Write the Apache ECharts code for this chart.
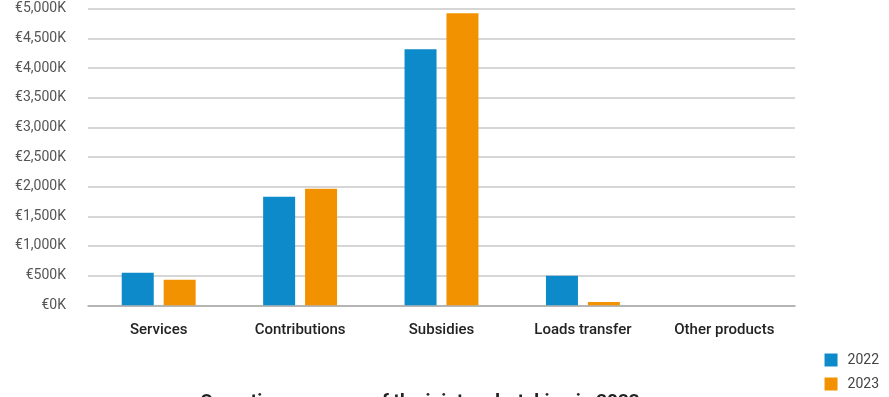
<!DOCTYPE html>
<html>
<head>
<meta charset="utf-8">
<script src="https://cdn.jsdelivr.net/npm/echarts@6/dist/echarts.min.js"></script>
<style>
  html, body { margin: 0; padding: 0; background: #fff; }
  #chart { width: 889px; height: 397px; }
</style>
</head>
<body>
<div id="chart"></div>
<script>
// revenue categories and values (thousand euro)
const categories = ['Services', 'Contributions', 'Subsidies', 'Loads transfer', 'Other products'];
const values2022 = [550, 1830, 4315, 498, 0];
const values2023 = [432, 1965, 4925, 55, 0];
const yTicks = [0, 500, 1000, 1500, 2000, 2500, 3000, 3500, 4000, 4500, 5000];

const chart = echarts.init(document.getElementById('chart'));

const option = {
    animation: false,
    title: {
        text: 'Operating revenues of the joint undertaking in 2023',
        left: 200,
        top: 393,
        padding: 0,
        textStyle: {
            fontFamily: 'Roboto',
            fontSize: 19,
            fontWeight: 'bold',
            color: '#222'
        }
    },
    legend: {
        orient: 'vertical',
        right: 10,
        top: 353,
        padding: 0,
        itemWidth: 13,
        itemHeight: 13,
        itemGap: 10,
        icon: 'rect',
        textStyle: {
            fontFamily: 'Roboto',
            fontSize: 14,
            color: '#444',
            padding: [0, 0, 0, 5]
        },
        data: ['2022', '2023']
    },
    grid: {
        left: 88,
        right: 94,
        top: 8.7,
        bottom: 91.7,
        containLabel: false
    },
    xAxis: {
        type: 'category',
        data: categories,
        axisTick: { show: false },
        axisLine: {
            show: true,
            lineStyle: { color: '#aaa', width: 1.5 }
        },
        axisLabel: {
            margin: 17,
            fontFamily: 'Roboto',
            fontSize: 15,
            fontWeight: 500,
            color: '#222'
        }
    },
    yAxis: {
        type: 'value',
        min: yTicks[0],
        max: yTicks[yTicks.length - 1],
        interval: 500,
        axisLine: { show: false },
        axisTick: { show: false },
        axisLabel: {
            margin: 22,
            fontFamily: 'Roboto',
            fontSize: 14,
            color: '#555',
            formatter: (v) => '€' + v.toLocaleString('en-US') + 'K'
        },
        splitLine: {
            lineStyle: { color: '#c8c8c8', width: 1.5 }
        }
    },
    series: [
        {
            name: '2022',
            type: 'bar',
            data: values2022,
            barWidth: 32,
            barGap: '31%',
            itemStyle: { color: '#0c8ac9' }
        },
        {
            name: '2023',
            type: 'bar',
            data: values2023,
            barWidth: 32,
            itemStyle: { color: '#f39200' }
        }
    ]
};

chart.setOption(option);
</script>
</body>
</html>
